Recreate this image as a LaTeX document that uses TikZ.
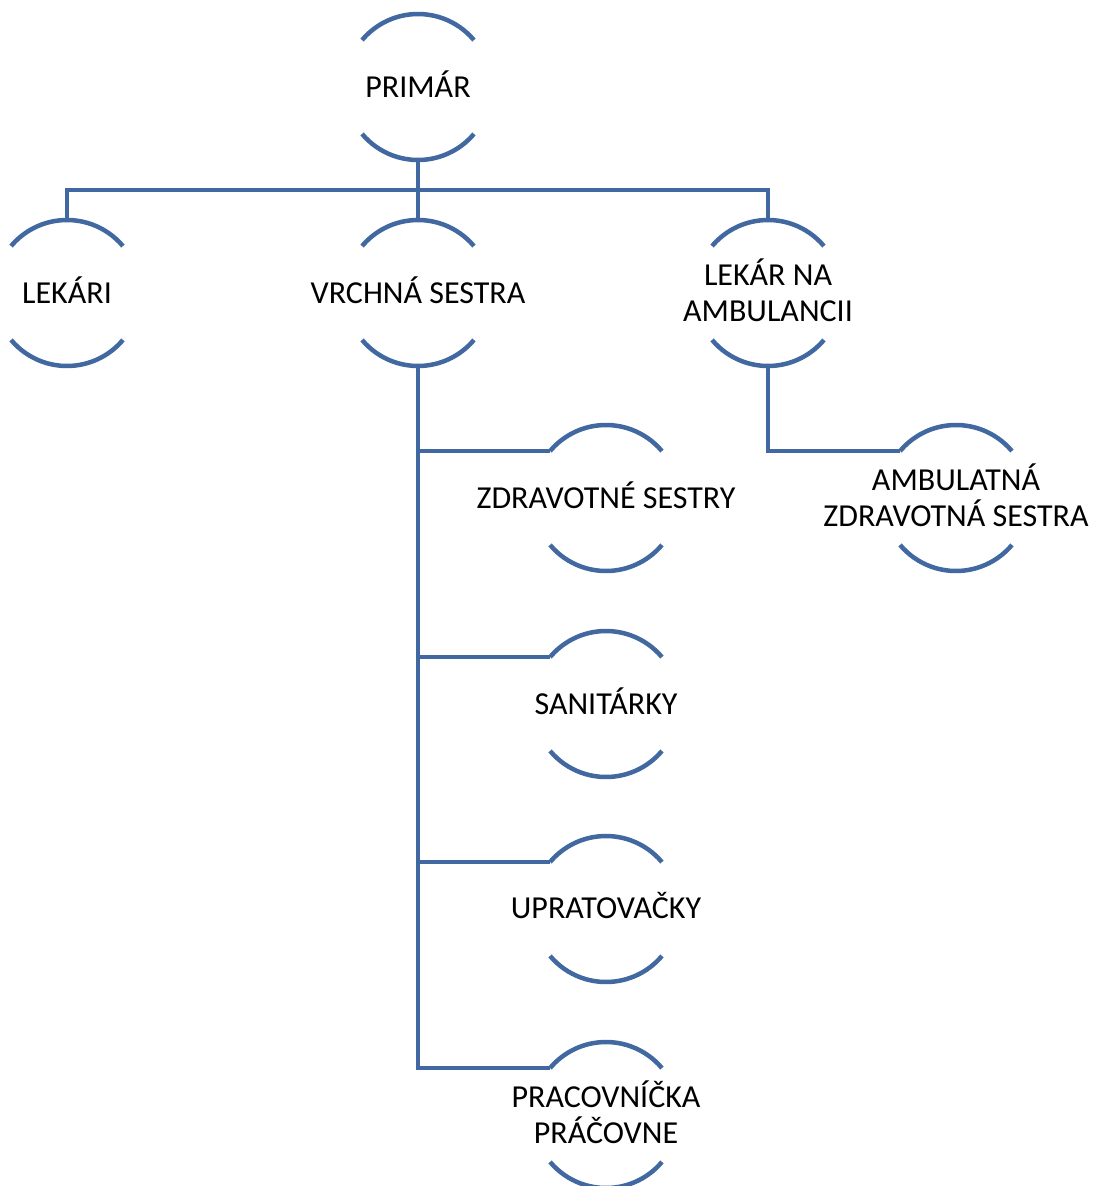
\documentclass[tikz,border=0pt]{standalone}
\usepackage{fontspec}
\setmainfont{Carlito}
\definecolor{lineblue}{RGB}{65,104,160}
\begin{document}
\begin{tikzpicture}[x=1pt,y=1pt,
  unit/.style={circle,minimum size=146pt,inner sep=0pt,outer sep=0pt},
  label/.style={align=center,inner sep=0pt,yshift=3pt,font=\fontsize{32}{36}\selectfont,text=black},
  conn/.style={draw=lineblue,line width=4.5pt,line join=miter},
  arcline/.style={draw=lineblue,line width=4.5pt}]
\useasboundingbox (0,0) rectangle (1095,-1186);
\node[unit] (pri) at (418,-87) {};
\node[unit] (lek) at (67,-293) {};
\node[unit] (vs) at (418,-293) {};
\node[unit] (la) at (768,-293) {};
\node[unit] (zs) at (606,-498) {};
\node[unit] (azs) at (956,-498) {};
\node[unit] (san) at (606,-704) {};
\node[unit] (upr) at (606,-909) {};
\node[unit] (pra) at (606,-1115) {};
\node[label] (pri-t) at (pri.center) {PRIMÁR};
\node[label] (lek-t) at (lek.center) {LEKÁRI};
\node[label] (vs-t) at (vs.center) {VRCHNÁ SESTRA};
\node[label] (la-t) at (la.center) {LEKÁR NA\\AMBULANCII};
\node[label] (zs-t) at (zs.center) {ZDRAVOTNÉ SESTRY};
\node[label] (azs-t) at (azs.center) {AMBULATNÁ\\ZDRAVOTNÁ SESTRA};
\node[label] (san-t) at (san.center) {SANITÁRKY};
\node[label] (upr-t) at (upr.center) {UPRATOVAČKY};
\node[label] (pra-t) at (pra.center) {PRACOVNÍČKA\\PRÁČOVNE};
\foreach \n in {pri,lek,vs,la,zs,azs,san,upr,pra}{
  \draw[arcline] (\n.40) arc[start angle=40,end angle=140,radius=73];
  \draw[arcline] (\n.220) arc[start angle=220,end angle=320,radius=73];
}
\coordinate (bus) at (418,-190);
\draw[conn] (pri.south) -- (bus);
\draw[conn] (lek.north) |- (bus) -| (la.north);
\draw[conn] (vs.north) -- (vs.north |- bus);
\draw[conn] (vs.south) |- (pra.140);
\draw[conn] (vs.south |- zs.140) -- (zs.140);
\draw[conn] (vs.south |- san.140) -- (san.140);
\draw[conn] (vs.south |- upr.140) -- (upr.140);
\draw[conn] (la.south) |- (azs.140);
\end{tikzpicture}
\end{document}
